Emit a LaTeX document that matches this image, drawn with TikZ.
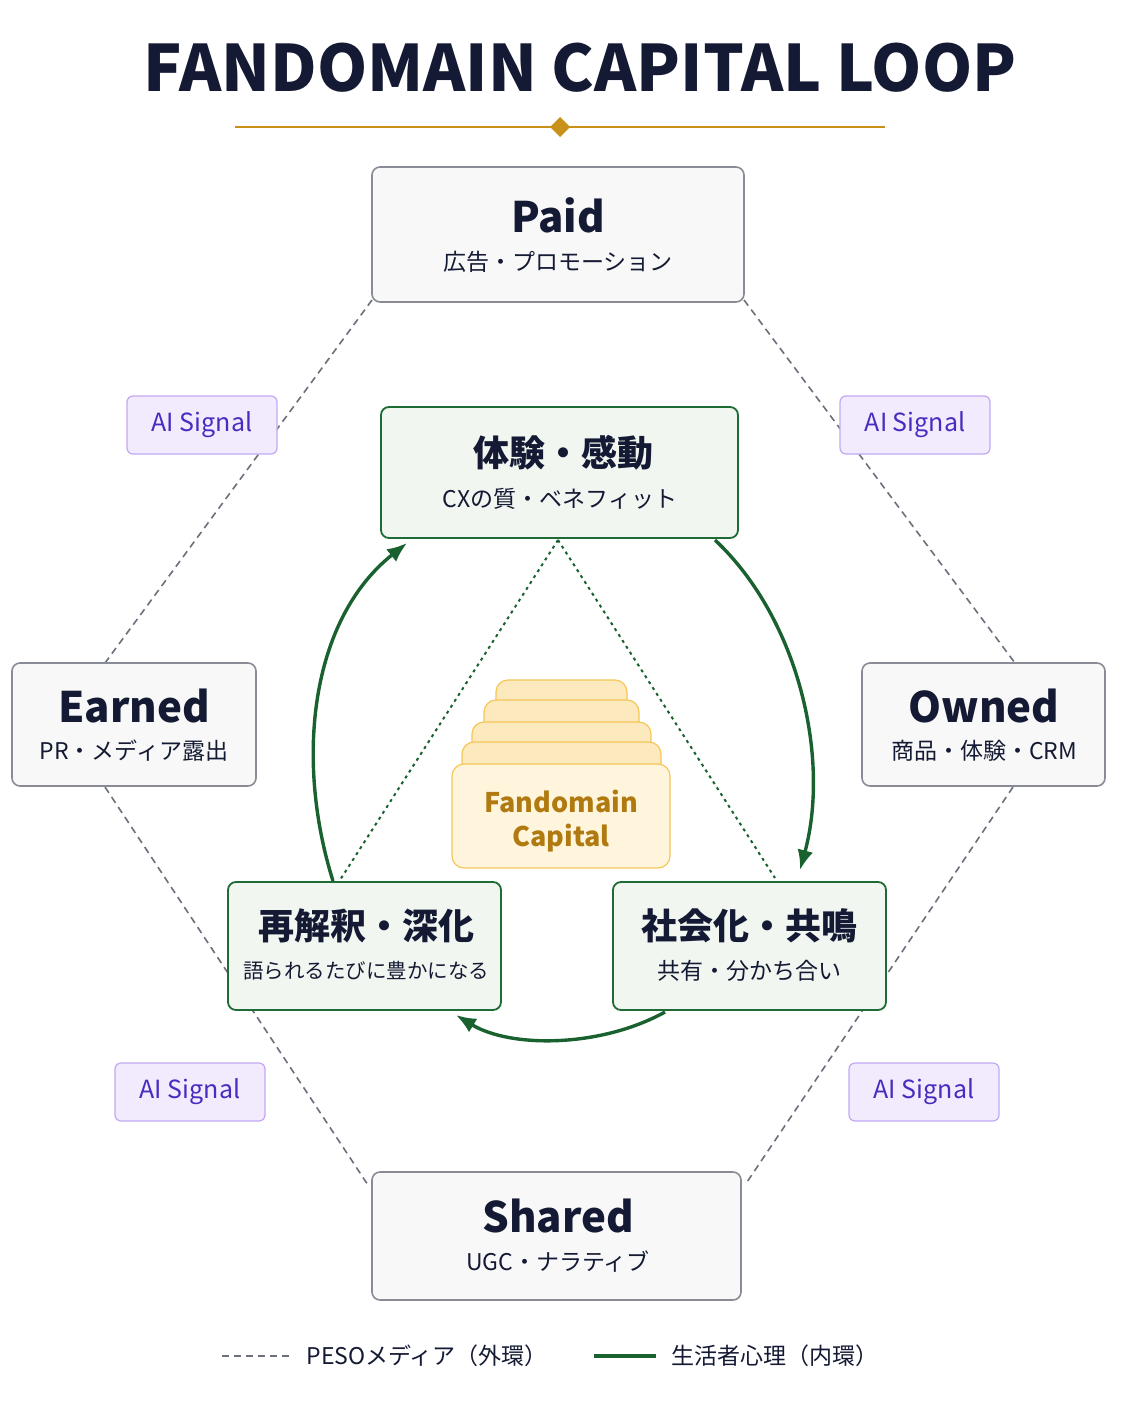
\documentclass[tikz,border=0pt]{standalone}
\usepackage{fontspec}
\setmainfont{Noto Sans CJK JP}
\usetikzlibrary{arrows.meta}
\definecolor{navy}{HTML}{141a33}
\definecolor{gold}{HTML}{C8921A}
\definecolor{gborder}{HTML}{1E6B35}
\definecolor{gfill}{HTML}{F1F6F1}
\definecolor{gline}{HTML}{1A6130}
\definecolor{gray}{HTML}{6C6F7C}
\definecolor{pfill}{HTML}{F1EBFD}
\definecolor{pborder}{HTML}{C2A8F2}
\definecolor{ptext}{HTML}{4A2BC0}
\definecolor{capfill}{HTML}{FFF5DC}
\definecolor{capl1}{HTML}{FDE9BE}
\definecolor{capborder}{HTML}{F5C658}
\definecolor{captext}{HTML}{B07A10}
\begin{document}
\begin{tikzpicture}[x=1pt,y=-1pt,
  outer/.style={draw=gray!80,line width=1.6pt,fill=gray!5,rounded corners=8pt},
  inner/.style={draw=gborder,line width=1.8pt,fill=gfill,rounded corners=8pt},
  ai/.style={draw=pborder,line width=1.2pt,fill=pfill,rounded corners=6pt,text=ptext,font=\fontsize{25}{30}\selectfont,minimum width=150pt,minimum height=58pt},
  pdash/.style={gray,line width=1.6pt,dash pattern=on 7pt off 5pt},
  garrow/.style={gline,line width=3.4pt,-{Latex[length=20pt,width=16pt]}},
  gdot/.style={gline,line width=2pt,dash pattern=on 3pt off 4pt},
  ttl/.style={font=\fontsize{42}{48}\selectfont\bfseries,text=navy},
  sub/.style={font=\fontsize{23}{28}\selectfont,text=navy},
  ittl/.style={font=\fontsize{36}{42}\selectfont\bfseries,text=navy},
  capl/.style={draw=capborder,line width=1.2pt,fill=capl1,rounded corners=12pt}]
\useasboundingbox[fill=white] (0,0) rectangle (1122,1402);
\node[font=\fontsize{64}{72}\selectfont\bfseries,text=navy] (title) at (580,68) {FANDOMAIN CAPITAL LOOP};
\draw[gold,line width=1.2pt] (235,127) -- (885,127);
\fill[gold] (560,117) -- (570,127) -- (560,137) -- (550,127) -- cycle;
% outer dashed loop
\coordinate (p1) at (372,300); \coordinate (p2) at (744,300);
\coordinate (e1) at (105,663); \coordinate (e2) at (105,787);
\coordinate (o1) at (1015,663); \coordinate (o2) at (1013,787);
\coordinate (s1) at (368,1185); \coordinate (s2) at (745,1185);
\draw[pdash] (p1) -- (e1); \draw[pdash] (p2) -- (o1);
\draw[pdash] (e2) -- (s1); \draw[pdash] (o2) -- (s2);
% outer boxes
\draw[outer] (372,167) rectangle (744,302);
\node[ttl] (paid) at (558,215) {Paid};
\node[sub] (paids) at (558,262) {広告・プロモーション};
\draw[outer] (12,663) rectangle (256,786);
\node[ttl] (earned) at (134,706) {Earned};
\node[sub] (earneds) at (134,751) {PR・メディア露出};
\draw[outer] (862,663) rectangle (1105,786);
\node[ttl] (owned) at (984,706) {Owned};
\node[sub] (owneds) at (984,751) {商品・体験・CRM};
\draw[outer] (372,1172) rectangle (741,1300);
\node[ttl] (shared) at (558,1216) {Shared};
\node[sub] (shareds) at (558,1262) {UGC・ナラティブ};
% AI signals
\node[ai] (ai1) at (202,425) {AI Signal};
\node[ai] (ai2) at (915,425) {AI Signal};
\node[ai] (ai3) at (190,1092) {AI Signal};
\node[ai] (ai4) at (924,1092) {AI Signal};
% dotted triangle
\coordinate (t0) at (558,540); \coordinate (tl) at (340,880); \coordinate (tr) at (775,878);
\draw[gdot] (t0) -- (tl); \draw[gdot] (t0) -- (tr);
% capital stack
\draw[capl] (496,680) rectangle (627,790);
\draw[capl] (484,700) rectangle (639,790);
\draw[capl] (472,722) rectangle (651,790);
\draw[capl] (462,742) rectangle (661,790);
\draw[capl,fill=capfill] (452,764) rectangle (670,868);
\node[font=\fontsize{27}{34}\selectfont\bfseries,text=captext,align=center] (cap) at (561,821) {Fandomain\\Capital};
% inner boxes
\draw[inner] (381,407) rectangle (738,538);
\node[ittl] (cx) at (563,453) {体験・感動};
\node[sub] (cxs) at (560,499) {CXの質・ベネフィット};
\draw[inner] (228,882) rectangle (501,1010);
\node[ittl] (re) at (366,926) {再解釈・深化};
\node[sub,font=\fontsize{20.5}{25}\selectfont] (res) at (366,971) {語られるたびに豊かになる};
\draw[inner] (613,882) rectangle (886,1010);
\node[ittl] (so) at (749,926) {社会化・共鳴};
\node[sub] (sos) at (749,971) {共有・分かち合い};
% green arrows
\coordinate (a1) at (715,540); \coordinate (a2) at (800,870);
\coordinate (b1) at (665,1012); \coordinate (b2) at (456,1015);
\coordinate (c1) at (333,881); \coordinate (c2) at (407,543);
\draw[garrow] (a1) .. controls (800,620) and (830,760) .. (a2);
\draw[garrow] (b1) .. controls (600,1048) and (510,1048) .. (b2);
\draw[garrow] (c1) .. controls (295,760) and (310,620) .. (c2);
% legend
\coordinate (l1) at (222,1356); \coordinate (l2) at (292,1356);
\draw[pdash,line width=2pt] (l1) -- (l2);
\node[sub,anchor=west] (leg1) at (303,1356) {PESOメディア（外環）};
\coordinate (l3) at (594,1356); \coordinate (l4) at (656,1356);
\draw[gline,line width=3.5pt] (l3) -- (l4);
\node[sub,anchor=west] (leg2) at (668,1356) {生活者心理（内環）};
\end{tikzpicture}
\end{document}
